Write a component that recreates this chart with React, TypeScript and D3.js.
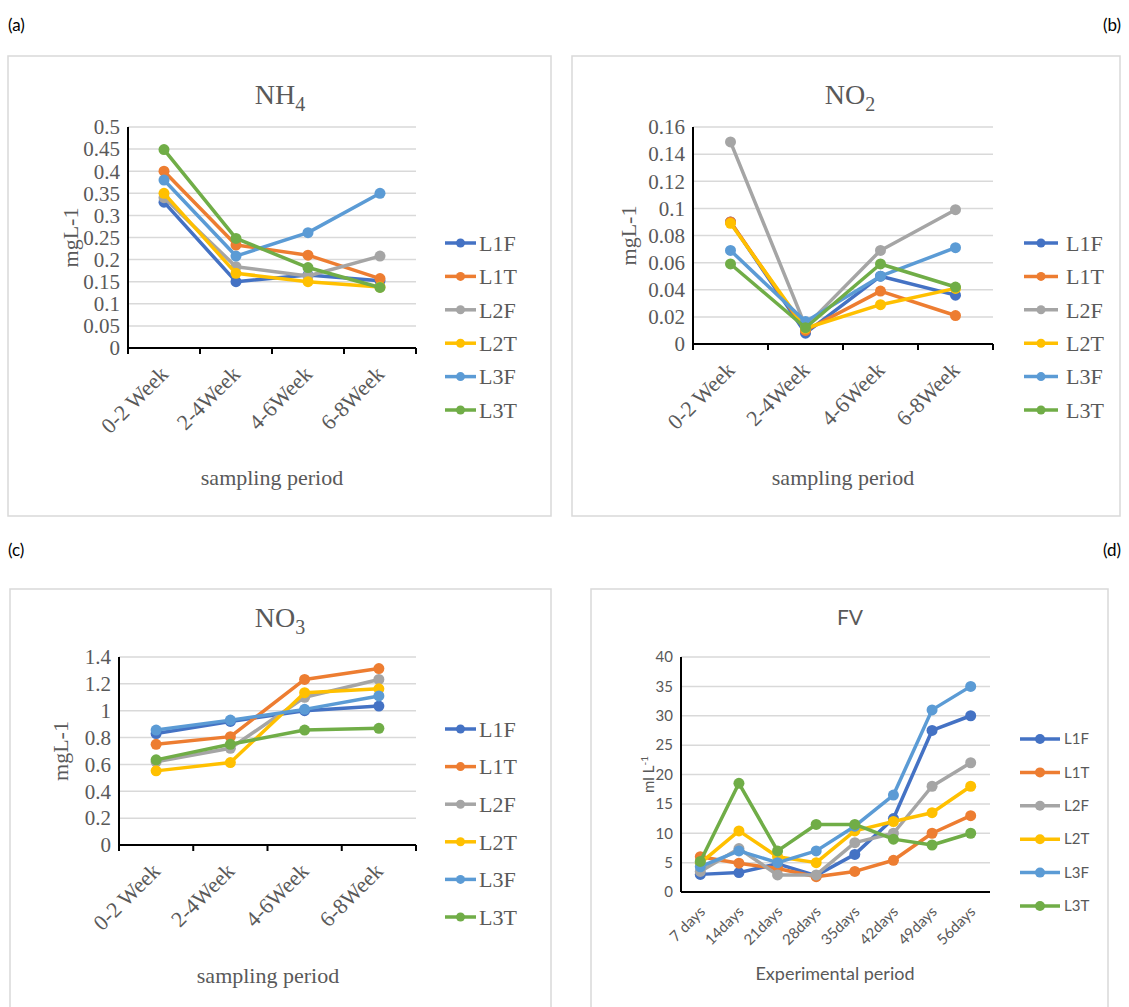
import React from 'react'
import * as d3 from 'd3'

// series shared by all four panels
const seriesNames = ['L1F', 'L1T', 'L2F', 'L2T', 'L3F', 'L3T']
const seriesColors = ['#4472C4', '#ED7D31', '#A5A5A5', '#FFC000', '#5B9BD5', '#70AD47']

const weekCats = ['0-2 Week', '2-4Week', '4-6Week', '6-8Week']
const dayCats = ['7 days', '14days', '21days', '28days', '35days', '42days', '49days', '56days']

// (a) NH4
const nh4Values = [
    [0.33, 0.15, 0.165, 0.152],
    [0.40, 0.233, 0.21, 0.157],
    [0.34, 0.184, 0.163, 0.208],
    [0.35, 0.169, 0.15, 0.138],
    [0.38, 0.208, 0.261, 0.35],
    [0.449, 0.248, 0.182, 0.137]
]
const nh4Ticks = [0, 0.05, 0.1, 0.15, 0.2, 0.25, 0.3, 0.35, 0.4, 0.45, 0.5]

// (b) NO2
const no2Values = [
    [0.09, 0.008, 0.05, 0.036],
    [0.09, 0.01, 0.039, 0.021],
    [0.149, 0.013, 0.069, 0.099],
    [0.089, 0.0116, 0.029, 0.041],
    [0.069, 0.0165, 0.05, 0.071],
    [0.059, 0.012, 0.059, 0.042]
]
const no2Ticks = [0, 0.02, 0.04, 0.06, 0.08, 0.1, 0.12, 0.14, 0.16]

// (c) NO3
const no3Values = [
    [0.83, 0.92, 1.0, 1.035],
    [0.75, 0.807, 1.233, 1.314],
    [0.62, 0.72, 1.1, 1.233],
    [0.552, 0.614, 1.134, 1.163],
    [0.856, 0.93, 1.01, 1.11],
    [0.634, 0.75, 0.856, 0.869]
]
const no3Ticks = [0, 0.2, 0.4, 0.6, 0.8, 1, 1.2, 1.4]

// (d) FV
const fvValues = [
    [3.0, 3.3, 4.8, 2.8, 6.4, 12.5, 27.5, 30],
    [6.0, 4.9, 4.0, 2.6, 3.5, 5.4, 10, 13],
    [3.5, 7.4, 2.9, 2.9, 8.4, 10, 18, 22],
    [4.9, 10.4, 6, 5, 10.4, 12, 13.5, 18],
    [4.3, 7, 5, 7, 11.2, 16.5, 31, 35],
    [5.2, 18.5, 7, 11.5, 11.5, 9, 8, 10]
]
const fvTicks = [0, 5, 10, 15, 20, 25, 30, 35, 40]

const SERIF = '"Liberation Serif", "Times New Roman", serif'
const SANS = 'Lato, "Open Sans", sans-serif'
const TEXT = '#595959'

type PanelProps = {
    box: number[],
    plot: { left: number, right: number, top: number, bottom: number },
    cats: string[],
    values: number[][],
    ticks: number[],
    title: React.ReactNode,
    titleX: number,
    titleY: number,
    yLabel: React.ReactNode,
    yLabelX: number,
    xLabel: string,
    xLabelX: number,
    xLabelY: number,
    legend: { x0: number, x1: number, tx: number, y0: number, step: number, r: number },
    font: string,
    tickSize: number,
    catSize: number,
    legendSize: number,
    labelSize: number,
    catDx: number,
    catDy: number,
    xTicks: boolean,
    r: number
}

function LinePanel(p: PanelProps) {
    const { plot } = p
    const x = d3.scaleBand().domain(p.cats).range([plot.left, plot.right])
    const y = d3.scaleLinear().domain([0, p.ticks[p.ticks.length - 1]]).range([plot.bottom, plot.top])
    const cx = (c: string) => (x(c) as number) + x.bandwidth() / 2
    const line = d3.line<number>()
        .x((_, i) => cx(p.cats[i]))
        .y((d) => y(d))

    return (
        <g>
            <rect x={p.box[0]} y={p.box[1]} width={p.box[2] - p.box[0]} height={p.box[3] - p.box[1]}
                fill="#fff" stroke="#D9D9D9" strokeWidth={1.5} />
            <text x={p.titleX} y={p.titleY} textAnchor="middle" fontFamily={p.font} fontSize={p.font === SERIF ? 28 : 21} fill={TEXT}>
                {p.title}
            </text>

            {/* gridlines */}
            {p.ticks.map((t) => t > 0 && (
                <line key={t} x1={plot.left} x2={plot.right} y1={y(t)} y2={y(t)} stroke="#D9D9D9" strokeWidth={1.5} />
            ))}
            {p.ticks.map((t) => (
                <text key={'l' + t} x={plot.left - 8} y={y(t)} dy="0.35em" textAnchor="end"
                    fontFamily={p.font} fontSize={p.tickSize} fill={TEXT}>{String(t)}</text>
            ))}

            {/* axes */}
            <line x1={plot.left} x2={plot.left} y1={plot.top} y2={plot.bottom} stroke="#000" strokeWidth={2} />
            <line x1={plot.left} x2={plot.right} y1={plot.bottom} y2={plot.bottom} stroke="#000" strokeWidth={2} />
            {p.xTicks && [...p.cats.map((c) => x(c) as number), plot.right].map((t, i) => (
                <line key={i} x1={t} x2={t} y1={plot.bottom} y2={plot.bottom + 6} stroke="#000" strokeWidth={2} />
            ))}
            {p.cats.map((c) => (
                <text key={c} transform={`translate(${cx(c) + p.catDx},${plot.bottom + p.catDy}) rotate(-45)`}
                    textAnchor="end" dy="0.35em" fontFamily={p.font} fontSize={p.catSize} fill={TEXT}>{c}</text>
            ))}

            <text transform={`translate(${p.yLabelX},${(plot.top + plot.bottom) / 2}) rotate(-90)`} textAnchor="middle"
                dy="0.35em" fontFamily={p.font} fontSize={p.labelSize} fill={TEXT}>{p.yLabel}</text>
            <text x={p.xLabelX} y={p.xLabelY} textAnchor="middle" fontFamily={p.font} fontSize={p.labelSize} fill={TEXT}>
                {p.xLabel}
            </text>

            {/* series */}
            {p.values.map((vals, si) => (
                <g key={si}>
                    <path d={line(vals) as string} fill="none" stroke={seriesColors[si]} strokeWidth={3.5} strokeLinejoin="round" />
                    {vals.map((v, i) => (
                        <circle key={i} cx={cx(p.cats[i])} cy={y(v)} r={p.r} fill={seriesColors[si]} />
                    ))}
                </g>
            ))}

            {/* legend */}
            {seriesNames.map((n, i) => {
                const ly = p.legend.y0 + i * p.legend.step
                return (
                    <g key={n}>
                        <line x1={p.legend.x0} x2={p.legend.x1} y1={ly} y2={ly} stroke={seriesColors[i]} strokeWidth={3.5} />
                        <circle cx={(p.legend.x0 + p.legend.x1) / 2} cy={ly} r={p.legend.r} fill={seriesColors[i]} />
                        <text x={p.legend.tx} y={ly} dy="0.35em" fontFamily={p.font} fontSize={p.legendSize} fill={TEXT}>{n}</text>
                    </g>
                )
            })}
        </g>
    )
}

const serifPanel = {
    font: SERIF, tickSize: 21, catSize: 22, legendSize: 22, labelSize: 22,
    catDx: 0, catDy: 22, xTicks: true, r: 5.5
}

export default function App() {
    return (
        <div style={{ position: 'absolute', left: 0, top: 0, width: 1129, height: 1007, background: '#fff' }}>
            <svg width={1129} height={1007} style={{ display: 'block' }}>
                <rect width={1129} height={1007} fill="#fff" />
                <g fontFamily={SANS} fontSize={17} fill="#000">
                    <text x={8} y={31}>(a)</text>
                    <text x={1121} y={31} textAnchor="end">(b)</text>
                    <text x={8} y={556}>(c)</text>
                    <text x={1121} y={556} textAnchor="end">(d)</text>
                </g>

                <LinePanel {...serifPanel}
                    box={[8, 56, 551, 516]}
                    plot={{ left: 128, right: 416, top: 127, bottom: 348 }}
                    cats={weekCats} values={nh4Values} ticks={nh4Ticks}
                    title={<>NH<tspan dy={7} fontSize={20}>4</tspan></>} titleX={280} titleY={104}
                    yLabel="mgL-1" yLabelX={70}
                    xLabel="sampling period" xLabelX={272} xLabelY={485}
                    legend={{ x0: 445, x1: 476, tx: 479, y0: 243, step: 33.4, r: 4.5 }} />

                <LinePanel {...serifPanel}
                    box={[572, 56, 1120, 516]}
                    plot={{ left: 693, right: 993, top: 127, bottom: 344 }}
                    cats={weekCats} values={no2Values} ticks={no2Ticks}
                    title={<>NO<tspan dy={7} fontSize={20}>2</tspan></>} titleX={850} titleY={104}
                    yLabel="mgL-1" yLabelX={628}
                    xLabel="sampling period" xLabelX={843} xLabelY={485}
                    legend={{ x0: 1024, x1: 1058, tx: 1066, y0: 243, step: 33.4, r: 4.5 }} />

                <LinePanel {...serifPanel}
                    box={[10, 589, 551, 1015]}
                    plot={{ left: 119, right: 416, top: 657, bottom: 845 }}
                    cats={weekCats} values={no3Values} ticks={no3Ticks}
                    title={<>NO<tspan dy={7} fontSize={20}>3</tspan></>} titleX={280} titleY={627}
                    yLabel="mgL-1" yLabelX={60}
                    xLabel="sampling period" xLabelX={268} xLabelY={983}
                    legend={{ x0: 445, x1: 476, tx: 479, y0: 729, step: 37.6, r: 4.5 }} />

                <LinePanel
                    font={SANS} tickSize={15} catSize={15} legendSize={15} labelSize={18}
                    catDx={2} catDy={17} xTicks={false} r={5.5}
                    box={[591, 589, 1108, 1015]}
                    plot={{ left: 681, right: 990, top: 657, bottom: 892 }}
                    cats={dayCats} values={fvValues} ticks={fvTicks}
                    title="FV" titleX={850} titleY={625}
                    yLabel={<tspan fontSize={15}>ml L<tspan dy={-6} fontSize={10}>-1</tspan></tspan>} yLabelX={648}
                    xLabel="Experimental period" xLabelX={835} xLabelY={980}
                    legend={{ x0: 1020, x1: 1060, tx: 1064, y0: 739, step: 33.4, r: 5 }} />
            </svg>
        </div>
    )
}
